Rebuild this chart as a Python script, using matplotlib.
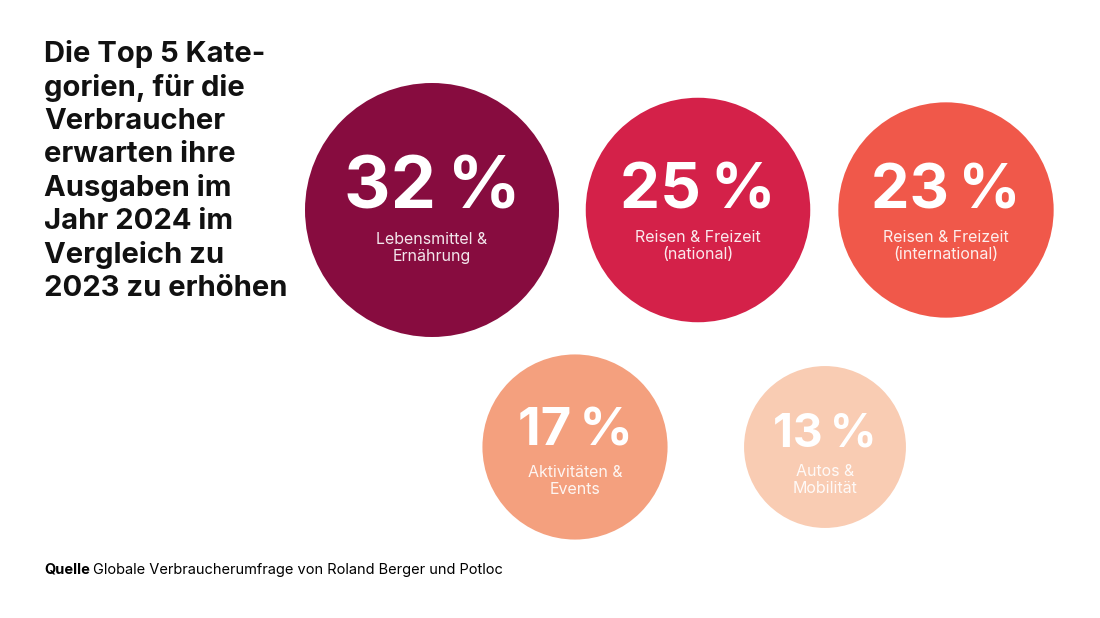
import matplotlib.pyplot as plt
from matplotlib.patches import Circle

values = [32, 25, 23, 17, 13]
labels = ["Lebensmittel &\nErnährung", "Reisen & Freizeit\n(national)",
          "Reisen & Freizeit\n(international)", "Aktivitäten &\nEvents", "Autos &\nMobilität"]
colors = ["#870C3F", "#D42149", "#F0584A", "#F4A07E", "#F9CCB3"]
centers = [(432, 210), (698, 210), (946, 210), (575, 447), (825, 447)]

W, H = 1100, 618
fig = plt.figure(figsize=(11, 6.18), dpi=100)
ax = fig.add_axes([0, 0, 1, 1])
ax.set_xlim(0, W); ax.set_ylim(H, 0); ax.axis('off')
fam = ['Inter', 'DejaVu Sans']

rmax = 127
for v, lab, c, (cx, cy) in zip(values, labels, colors, centers):
    r = rmax * (v / max(values)) ** 0.5
    ax.add_patch(Circle((cx, cy), r, color=c, lw=0))
    s = r / rmax
    ax.text(cx, cy - 0.16 * r, f"{v}\u2009%", color='white', fontsize=52 * s,
            fontweight='bold', ha='center', va='center', family=fam)
    ax.text(cx, cy + 25 + 0.1 * r, lab, color='white', alpha=0.9, fontsize=11.5,
            ha='center', va='center', linespacing=1.2, family=fam)

title = ("Die Top 5 Kate-\ngorien, für die\nVerbraucher\nerwarten ihre\nAusgaben im\n"
         "Jahr 2024 im\nVergleich zu\n2023 zu erhöhen")
ax.text(44, 40, title, fontsize=21, fontweight='bold', ha='left', va='top',
        linespacing=1.28, family=fam, color='#111111')
ax.text(44, 570, "Quelle", fontsize=10.5, fontweight='bold', va='center', family=fam)
ax.text(93, 570, "Globale Verbraucherumfrage von Roland Berger und Potloc", fontsize=10.5,
        va='center', family=fam)

fig.savefig("out.png", dpi=100)
